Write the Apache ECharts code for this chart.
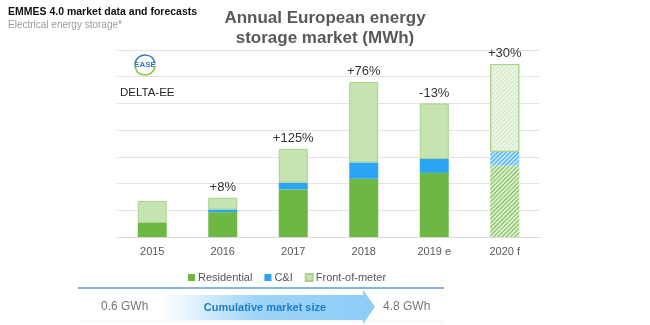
<!DOCTYPE html>
<html>
<head>
<meta charset="utf-8">
<script src="https://cdn.jsdelivr.net/npm/echarts@6/dist/echarts.min.js"></script>
<style>
  html, body { margin: 0; padding: 0; background: #fff; }
  #chart { width: 650px; height: 325px; }
</style>
</head>
<body>
<div id="chart"></div>
<script>
// Annual European energy storage market, MWh per segment
const years = ['2015', '2016', '2017', '2018', '2019 e', '2020 f'];
const residential = [106, 186, 356, 436, 480, 534];
const commercialIndustrial = [0, 20, 50, 122, 104, 104];
const frontOfMeter = [164, 88, 254, 602, 416, 657];
const growthLabels = ['', '+8%', '+125%', '+76%', '-13%', '+30%'];

const COL_RES = '#6db843';
const COL_CI = '#2aa5f3';
const COL_FTM = '#c6e3b2';
const FONT = 'Liberation Sans, Arial, sans-serif';

// forecast year (last category) is drawn hatched
const hatch = (stripe) => ({
  symbol: 'rect',
  color: stripe,
  dashArrayX: [1, 0],
  dashArrayY: [1, 2],
  rotation: -Math.PI / 4,
  symbolSize: 1
});

function withForecast(values, baseColor, stripe, border) {
  return values.map((v, i) => i === values.length - 1
    ? { value: v, itemStyle: { color: baseColor, decal: hatch(stripe), borderColor: border, borderWidth: border ? 1 : 0 } }
    : v);
}

const chart = echarts.init(document.getElementById('chart'), null, { renderer: 'canvas' });

chart.setOption({
  animation: false,
  aria: { enabled: false, decal: { show: false } },
  grid: { left: 117, right: 110, top: 50, bottom: 88 },
  legend: {
    left: 183, top: 267,
    itemWidth: 7, itemHeight: 7, itemGap: 12,
    icon: 'rect',
    textStyle: { fontFamily: FONT, fontSize: 11, color: '#555', padding: [0, 0, 0, -2] },
    data: ['Residential', 'C&I', 'Front-of-meter']
  },
  xAxis: {
    type: 'category',
    data: years,
    axisTick: { show: false },
    axisLine: { lineStyle: { color: '#d9d9d9' } },
    axisLabel: { fontFamily: FONT, fontSize: 11, color: '#595959', margin: 9 }
  },
  yAxis: {
    type: 'value',
    min: 0, max: 1400, interval: 200,
    axisLabel: { show: false },
    axisLine: { show: false },
    axisTick: { show: false },
    splitLine: { lineStyle: { color: '#e4e4e4' } }
  },
  series: [
    {
      name: 'Residential', type: 'bar', stack: 'total', barWidth: 29,
      itemStyle: { color: COL_RES },
      data: withForecast(residential, '#dcefcf', '#79bd52')
    },
    {
      name: 'C&I', type: 'bar', stack: 'total', barWidth: 29,
      itemStyle: { color: COL_CI },
      data: withForecast(commercialIndustrial, '#bfe3fa', '#3aabf2')
    },
    {
      name: 'Front-of-meter', type: 'bar', stack: 'total', barWidth: 29,
      itemStyle: { color: COL_FTM, borderColor: '#a9d18e', borderWidth: 1 },
      data: withForecast(frontOfMeter, '#eef6e8', '#cfe7bf', '#a9d18e'),
      label: {
        show: true, position: 'top', distance: 4,
        fontFamily: FONT, fontSize: 13, color: '#333',
        formatter: (p) => growthLabels[p.dataIndex]
      }
    }
  ],
  graphic: [
    { type: 'text', left: 8, top: 7, style: { text: 'EMMES 4.0 market data and forecasts', font: 'bold 10.5px ' + FONT, fill: '#111' } },
    { type: 'text', left: 8, top: 20, style: { text: 'Electrical energy storage*', font: '10px ' + FONT, fill: '#9a9a9a' } },
    { type: 'text', x: 325, y: 8, style: { text: 'Annual European energy\nstorage market (MWh)', font: 'bold 17px ' + FONT, fill: '#595959', align: 'center', lineHeight: 20 } },
    // EASE logo
    { type: 'arc', shape: { cx: 145, cy: 65, r: 10, startAngle: Math.PI * 1.05, endAngle: Math.PI * 1.95 }, style: { stroke: '#2e78b8', lineWidth: 1.5, fill: null } },
    { type: 'arc', shape: { cx: 145, cy: 65, r: 10, startAngle: Math.PI * 0.05, endAngle: Math.PI * 0.95 }, style: { stroke: '#8cc63f', lineWidth: 1.5, fill: null } },
    { type: 'text', x: 145, y: 61, style: { text: 'EASE', font: 'bold 8px ' + FONT, fill: '#2e78b8', align: 'center' } },
    { type: 'text', left: 120, top: 87, style: { text: 'DELTA-EE', font: '11.5px ' + FONT, fill: '#222' } },
    // cumulative market size band
    { type: 'line', shape: { x1: 78, y1: 288, x2: 444, y2: 288 }, style: { stroke: '#5b9bd5', lineWidth: 1.3 } },
    { type: 'line', shape: { x1: 78, y1: 321, x2: 444, y2: 321 }, style: { stroke: '#f0f0f0', lineWidth: 1 } },
    {
      type: 'polygon',
      shape: { points: [[162, 295], [363, 295], [363, 290], [375, 307], [363, 324], [363, 320], [162, 320]] },
      style: {
        fill: new echarts.graphic.LinearGradient(0, 0, 1, 0, [
          { offset: 0, color: 'rgba(255,255,255,1)' },
          { offset: 0.45, color: '#9dd4f8' },
          { offset: 1, color: '#8dccf6' }
        ])
      }
    },
    { type: 'text', x: 265, y: 302, style: { text: 'Cumulative market size', font: 'bold 11px ' + FONT, fill: '#1b7cc8', align: 'center' } },
    { type: 'text', x: 101, y: 301, style: { text: '0.6 GWh', font: '12px ' + FONT, fill: '#777' } },
    { type: 'text', x: 383, y: 301, style: { text: '4.8 GWh', font: '12px ' + FONT, fill: '#777' } }
  ]
});
</script>
</body>
</html>
